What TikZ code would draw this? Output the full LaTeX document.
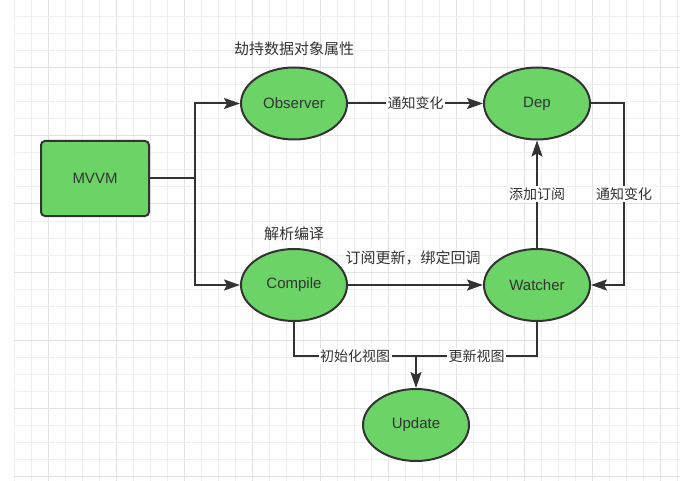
\documentclass[tikz,border=0pt]{standalone}
\usepackage{fontspec}
\setmainfont{Liberation Sans}
\newfontfamily\cjk{Noto Sans CJK SC}
\usetikzlibrary{shapes.geometric,arrows.meta}
\definecolor{gminor}{HTML}{EFEFEF}
\definecolor{gmajor}{HTML}{E2E2E2}
\definecolor{nodegreen}{HTML}{6CD466}
\definecolor{ink}{HTML}{333333}
\tikzset{
  oval/.style={ellipse, draw=ink, line width=2pt, fill=nodegreen, minimum width=106pt, minimum height=72pt, inner sep=0pt, text=ink, font=\fontsize{15}{18}\selectfont},
  mbox/.style={rectangle, rounded corners=4pt, draw=ink, line width=2pt, fill=nodegreen, minimum width=108pt, minimum height=75pt, inner sep=0pt, text=ink, font=\fontsize{15}{18}\selectfont},
  conn/.style={draw=ink, line width=2pt},
  arr/.style={conn, -{Stealth[length=16pt,width=11pt,inset=3pt]}},
  elabel/.style={fill=white, inner sep=1.5pt, text=ink, font=\cjk\fontsize{14}{16}\selectfont},
  tlabel/.style={inner sep=0pt, text=ink, font=\cjk\fontsize{15}{18}\selectfont}
}
\begin{document}
\begin{tikzpicture}[x=1pt,y=-1pt]
\useasboundingbox (0,0) rectangle (685,481);
\fill[white] (0,0) rectangle (685,481);
% grid
\foreach \i in {0,...,39} {
  \pgfmathtruncatemacro\r{mod(\i,4)}
  \ifnum\r=2
    \draw[gmajor, line width=1pt] (14+17*\i,0) -- (14+17*\i,481);
  \else
    \draw[gminor, line width=1pt] (14+17*\i,0) -- (14+17*\i,481);
  \fi
}
\foreach \j in {1,...,28} {
  \pgfmathtruncatemacro\r{mod(\j,4)}
  \ifnum\r=0
    \draw[gmajor, line width=1pt] (14,17*\j) -- (680,17*\j);
  \else
    \draw[gminor, line width=1pt] (14,17*\j) -- (680,17*\j);
  \fi
}
% nodes
\node[mbox] (mvvm) at (95,178.5) {MVVM};
\node[oval] (obs) at (294,103.5) {Observer};
\node[oval] (dep) at (537,103.5) {Dep};
\node[oval] (comp) at (294,285) {Compile};
\node[oval] (wat) at (537,285) {Watcher};
\node[oval] (upd) at (416,425) {Update};
% free labels
\node[tlabel] (t1) at (294,49) {劫持数据对象属性};
\node[tlabel] (t2) at (294,234) {解析编译};
\node[tlabel] (t3) at (413,258) {订阅更新，绑定回调};
% connectors
\coordinate (j) at (195,178.5);
\draw[conn] (mvvm.east) -- (j);
\draw[arr] (j) |- (obs.west);
\draw[arr] (j) |- (comp.west);
\draw[arr] (obs) -- node[elabel] {通知变化} (dep);
\draw[arr] (wat) -- node[elabel] {添加订阅} (dep);
\coordinate (r1) at (624,103.5);
\draw[arr] (dep.east) -- (r1) |- node[elabel, pos=0.25] {通知变化} (wat.east);
\draw[arr] (comp) -- (wat);
\coordinate (m) at (416,356);
\draw[conn] (comp.south) |- node[elabel, pos=0.75] {初始化视图} (m);
\draw[conn] (wat.south) |- node[elabel, pos=0.75] {更新视图} (m);
\draw[arr] (m) -- (upd.north);
\end{tikzpicture}
\end{document}
